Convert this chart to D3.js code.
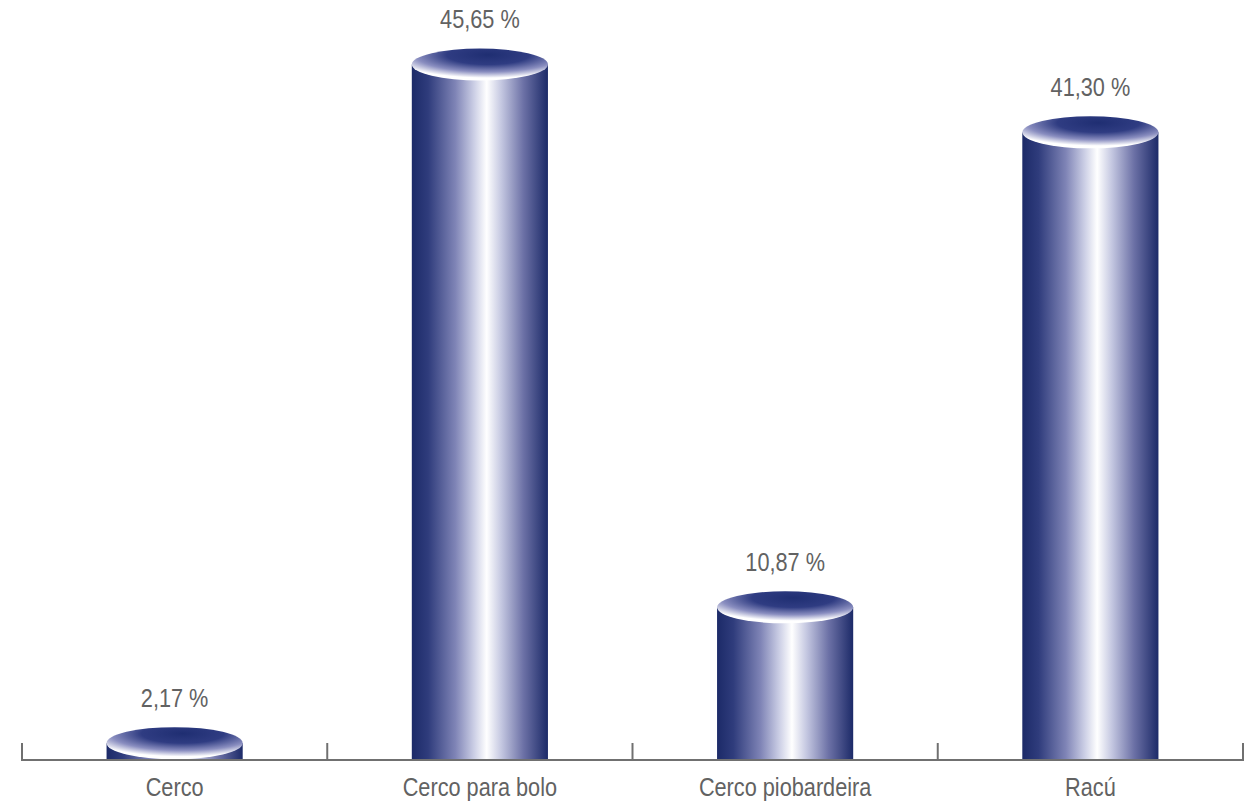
<!DOCTYPE html>
<html>
<head>
<meta charset="utf-8">
<script src="https://cdn.jsdelivr.net/npm/d3@7"></script>
<style>
  body { margin: 0; background: #fff; }
  text { font-family: "Liberation Sans", Arial, sans-serif; }
</style>
</head>
<body>
<div id="chart"></div>
<script>
const categories = ["Cerco", "Cerco para bolo", "Cerco piobardeira", "Racú"];
const values = [2.17, 45.65, 10.87, 41.30];
const valueLabels = ["2,17 %", "45,65 %", "10,87 %", "41,30 %"];

const width = 1252, height = 803;
const svg = d3.select("#chart").append("svg")
    .attr("width", width)
    .attr("height", height);

const x = d3.scaleBand()
    .domain(categories)
    .range([22, 1243])
    .paddingInner(0)
    .paddingOuter(0);

const y = d3.scaleLinear()
    .domain([0, 46])
    .range([761, 43]);

const barW = x.bandwidth() * 0.446;
const ry = 16;
const narrow = 0.835; // the labels use a condensed face

const defs = svg.append("defs");
const bodyGrad = defs.append("linearGradient").attr("id", "body");
bodyGrad.selectAll("stop")
    .data([
        { o: "0%", c: "#1c2a68" },
        { o: "12%", c: "#2f3c7c" },
        { o: "32%", c: "#7f84b6" },
        { o: "46%", c: "#cdd0e6" },
        { o: "55%", c: "#ffffff" },
        { o: "66%", c: "#c3c6e0" },
        { o: "82%", c: "#6c71a6" },
        { o: "100%", c: "#1c2a68" }
    ])
    .enter().append("stop")
    .attr("offset", d => d.o)
    .attr("stop-color", d => d.c);

const capGrad = defs.append("radialGradient").attr("id", "cap")
    .attr("cx", "56%").attr("cy", "20%").attr("r", "72%");
capGrad.selectAll("stop")
    .data([
        { o: "0%", c: "#1f2e72" },
        { o: "42%", c: "#2f3c82" },
        { o: "74%", c: "#8a8ec0" },
        { o: "100%", c: "#ffffff" }
    ])
    .enter().append("stop")
    .attr("offset", d => d.o)
    .attr("stop-color", d => d.c);

const data = categories.map((c, i) => ({ cat: c, v: values[i], label: valueLabels[i] }));

// cylinder body
svg.selectAll(".body")
    .data(data)
    .join("rect")
    .attr("class", "body")
    .attr("x", d => x(d.cat) + x.bandwidth() / 2 - barW / 2)
    .attr("y", d => y(d.v) + ry)
    .attr("width", barW)
    .attr("height", d => y(0) - 1 - (y(d.v) + ry))
    .style("fill", "url(#body)");

// cylinder top
svg.selectAll(".cap")
    .data(data)
    .join("ellipse")
    .attr("class", "cap")
    .attr("cx", d => x(d.cat) + x.bandwidth() / 2)
    .attr("cy", d => y(d.v) + ry)
    .attr("rx", barW / 2)
    .attr("ry", ry)
    .style("fill", "url(#cap)");

// value labels
svg.selectAll(".val")
    .data(data)
    .join("text")
    .attr("class", "val")
    .attr("transform", d => `translate(${x(d.cat) + x.bandwidth() / 2}, ${y(d.v) - 20}) scale(${narrow}, 1)`)
    .attr("text-anchor", "middle")
    .style("font-size", "26px")
    .style("fill", "#626262")
    .text(d => d.label);

// axis
const axisY = 760;
svg.append("line")
    .attr("x1", 22).attr("x2", 1243)
    .attr("y1", axisY).attr("y2", axisY)
    .style("stroke", "#707070").style("stroke-width", 2);

const tickPos = categories.map(c => x(c)).concat([x.range()[1]]);
svg.selectAll(".tick")
    .data(tickPos)
    .join("line")
    .attr("class", "tick")
    .attr("x1", d => d).attr("x2", d => d)
    .attr("y1", 743).attr("y2", axisY + 1)
    .style("stroke", "#707070").style("stroke-width", 2);

svg.selectAll(".cat")
    .data(categories)
    .join("text")
    .attr("class", "cat")
    .attr("transform", d => `translate(${x(d) + x.bandwidth() / 2}, 796) scale(${narrow}, 1)`)
    .attr("text-anchor", "middle")
    .style("font-size", "26px")
    .style("fill", "#626262")
    .text(d => d);
</script>
</body>
</html>
